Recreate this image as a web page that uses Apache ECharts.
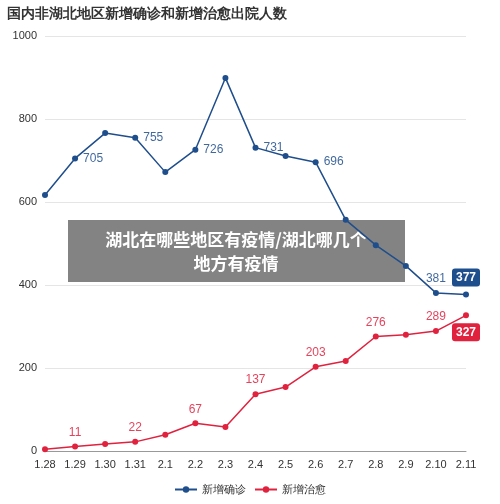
<!DOCTYPE html><html><head><meta charset="utf-8"><script src="https://cdn.jsdelivr.net/npm/echarts@6/dist/echarts.min.js"></script></head><body style="margin:0"><div id="c" style="width:500px;height:504px"></div><script>
const categories=['1.28','1.29','1.30','1.31','2.1','2.2','2.3','2.4','2.5','2.6','2.7','2.8','2.9','2.10','2.11'];
const confirmed=[617,705,766,755,672,726,899,731,711,696,557,496,446,381,377];
const cured=[4,11,17,22,39,67,58,137,154,203,217,276,280,289,327];
const confirmedLabelIdx=[1,3,5,7,9,13];
const curedLabelIdx=[1,3,5,7,9,11,13];
const blue='#1f4e8c',red='#e0223f';
function mk(vals,idx,color,pos){return vals.map((v,i)=>{
 if(i===vals.length-1)return{value:v,label:{show:true,position:pos,color:'#fff',backgroundColor:color,borderRadius:3,padding:[3,4],fontWeight:'bold',fontSize:12}};
 let p=pos==='top'?(i===vals.length-2?'top':'right'):'top';
 return{value:v,label:{show:idx.includes(i),position:p,color:color,fontSize:12,opacity:0.85}};});}
const ch=echarts.init(document.getElementById('c'));
ch.setOption({
 title:{text:'国内非湖北地区新增确诊和新增治愈出院人数',left:2,top:2,textStyle:{fontSize:14,fontWeight:'bold',color:'#333'}},
 legend:{bottom:4,itemWidth:22,itemHeight:8,textStyle:{fontSize:11,color:'#333'},data:['新增确诊','新增治愈']},
 grid:{left:45,right:34,top:36,bottom:53},
 xAxis:{type:'category',data:categories,boundaryGap:false,axisTick:{show:false},axisLine:{lineStyle:{color:'#999'}},axisLabel:{color:'#333',fontSize:11}},
 yAxis:{type:'value',min:0,max:1000,interval:200,axisLabel:{color:'#333',fontSize:11,formatter:v=>String(v)},splitLine:{lineStyle:{color:'#e5e5e5'}}},
 series:[
  {name:'新增确诊',type:'line',data:mk(confirmed,confirmedLabelIdx,blue,'top'),color:blue,symbol:'circle',symbolSize:6,lineStyle:{width:1.5}},
  {name:'新增治愈',type:'line',data:mk(cured,curedLabelIdx,red,'bottom'),color:red,symbol:'circle',symbolSize:6,lineStyle:{width:1.5}}
 ],
 graphic:[{type:'rect',left:68,top:220,shape:{width:337,height:62},style:{fill:'rgba(90,90,90,0.75)'}},
  {type:'text',x:236,y:228,style:{text:'湖北在哪些地区有疫情/湖北哪几个\n地方有疫情',fill:'#fff',font:'bold 17px "Noto Sans CJK SC"',align:'center',textAlign:'center',lineHeight:24}}]
});
</script></body></html>
